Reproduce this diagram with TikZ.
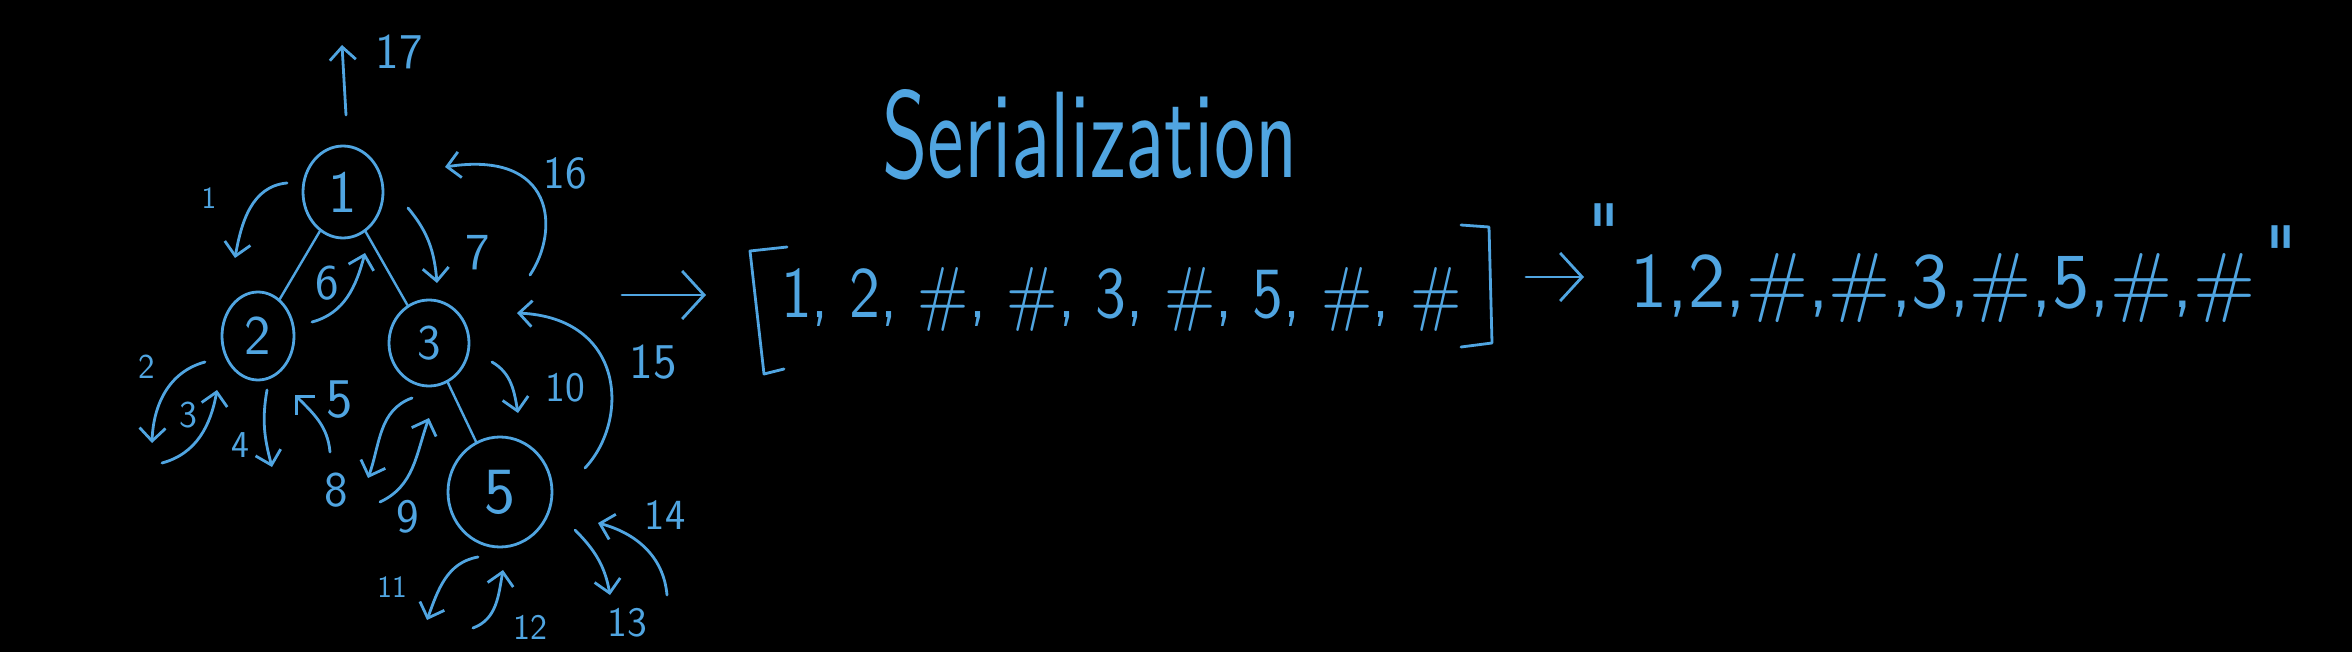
\documentclass[tikz,border=0pt]{standalone}
\usepackage{fontspec}
\usepackage{graphicx}
\usetikzlibrary{arrows.meta,shapes.geometric}
\definecolor{ink}{RGB}{80,165,225}
\begin{document}
\begin{tikzpicture}[x=1pt,y=1pt,
  inkline/.style={draw=ink, line width=2.8pt, line cap=round, line join=round},
  trav/.style={inkline, -{Straight Barb[length=13pt,width=26pt]}},
  bigarrow/.style={inkline, -{Straight Barb[length=22pt,width=48pt]}},
  treenode/.style={ellipse, draw=ink, line width=2.8pt, text=ink, inner sep=0pt, font=\sffamily\fontsize{#1}{#1}\selectfont},
  treenode/.default=58,
  treeedge/.style={draw=ink, line width=2.4pt, line cap=round},
  lbl/.style={text=ink, inner sep=0pt, font=\sffamily\fontsize{#1}{#1}\selectfont},
  lbl/.default=44,
  txt/.style={text=ink, inner sep=0pt, anchor=base west, font=\sffamily},
]
\fill[black] (0,0) rectangle (2352,-652);
\useasboundingbox (0,0) rectangle (2352,-652);

% tree nodes
\node[treenode=60, minimum width=80pt, minimum height=92pt] (n1) at (343,-192) {1};
\node[treenode=56, minimum width=72pt, minimum height=88pt] (n2) at (258,-336) {2};
\node[treenode=50, minimum width=80pt, minimum height=86pt] (n3) at (429,-343) {3};
\node[treenode=66, minimum width=104pt, minimum height=110pt] (n5) at (500,-492) {5};
\draw[treeedge] (n1) -- (n2);
\draw[treeedge] (n1) -- (n3);
\draw[treeedge] (n3) -- (n5);

% traversal arrow end points
\coordinate (s17) at (346,-115); \coordinate (e17) at (342,-45);
\coordinate (s1) at (287,-183);  \coordinate (e1) at (235,-258);
\coordinate (s2) at (205,-362);  \coordinate (e2) at (152,-443);
\coordinate (s3) at (162,-463);  \coordinate (e3) at (217,-390);
\coordinate (s4) at (267,-390);  \coordinate (e4) at (272,-467);
\coordinate (s5) at (330,-452);  \coordinate (e5) at (295,-395);
\coordinate (s6) at (312,-322);  \coordinate (e6) at (365,-253);
\coordinate (s7) at (408,-208);  \coordinate (e7) at (437,-283);
\coordinate (s8) at (412,-398);  \coordinate (e8) at (368,-478);
\coordinate (s9) at (380,-502);  \coordinate (e9) at (429,-418);
\coordinate (s10) at (492,-362); \coordinate (e10) at (518,-413);
\coordinate (s11) at (478,-557); \coordinate (e11) at (427,-620);
\coordinate (s12) at (473,-628); \coordinate (e12) at (503,-570);
\coordinate (s13) at (575,-530); \coordinate (e13) at (610,-595);
\coordinate (s14) at (667,-595); \coordinate (e14) at (598,-523);
\coordinate (s15) at (585,-468); \coordinate (e15) at (517,-313);
\coordinate (s16) at (530,-275); \coordinate (e16) at (445,-167);

\draw[trav] (s17) -- (e17);
\draw[trav] (s1) to[out=185,in=80] (e1);
\draw[trav] (s2) to[out=195,in=88] (e2);
\draw[trav] (s3) to[out=15,in=-100] (e3);
\draw[trav] (s4) to[out=-100,in=105] (e4);
\draw[trav] (s5) to[out=95,in=-45] (e5);
\draw[trav] (s6) to[out=15,in=-105] (e6);
\draw[trav] (s7) to[out=-50,in=95] (e7);
\draw[trav] (s8) to[out=200,in=70] (e8);
\draw[trav] (s9) to[out=25,in=-110] (e9);
\draw[trav] (s10) to[out=-30,in=100] (e10);
\draw[trav] (s11) to[out=190,in=70] (e11);
\draw[trav] (s12) to[out=20,in=-100] (e12);
\draw[trav] (s13) to[out=-45,in=100] (e13);
\draw[trav] (s14) to[out=95,in=-15] (e14);
\draw[trav] (s15) .. controls (630,-420) and (625,-318) .. (e15);
\draw[trav] (s16) .. controls (560,-230) and (555,-150) .. (e16);

% step labels
\node[lbl=50] (l17) at (399,-52) {17};
\node[lbl=31] (l1) at (209,-198) {1};
\node[lbl=35] (l2) at (147,-367) {2};
\node[lbl=38] (l3) at (188,-415) {3};
\node[lbl=38] (l4) at (240,-445) {4};
\node[lbl=56] (l5) at (340,-400) {5};
\node[lbl=50] (l6) at (327,-283) {6};
\node[lbl=52] (l7) at (478,-253) {7};
\node[lbl=50] (l8) at (336,-490) {8};
\node[lbl=48] (l9) at (408,-517) {9};
\node[lbl=42] (l10) at (565,-388) {10};
\node[lbl=31] (l11) at (392,-587) {11};
\node[lbl=36] (l12) at (530,-627) {12};
\node[lbl=42] (l13) at (627,-623) {13};
\node[lbl=43] (l14) at (665,-515) {14};
\node[lbl=50] (l15) at (653,-362) {15};
\node[lbl=46] (l16) at (565,-173) {16};

% title
\node[txt] (title) at (882,-178) {\resizebox{415pt}{88pt}{Serialization}};

% list
\coordinate (a1s) at (622,-295); \coordinate (a1e) at (706,-295);
\draw[bigarrow] (a1s) -- (a1e);
\draw[inkline] (787,-247) -- (750,-251) -- (764,-374) -- (784,-369);
\node[txt] (list) at (781,-317) {\resizebox{680pt}{50pt}{1, 2, \#, \#, 3, \#, 5, \#, \#}};
\draw[inkline] (1461,-225) -- (1489,-227) -- (1492,-343) -- (1461,-347);

% string
\coordinate (a2s) at (1526,-277); \coordinate (a2e) at (1584,-277);
\draw[bigarrow] (a2s) -- (a2e);
\node[lbl=80] (q1) at (1604,-232) {\textquotedbl};
\node[txt] (str) at (1630,-307) {\resizebox{625pt}{54pt}{1,2,\#,\#,3,\#,5,\#,\#}};
\node[lbl=80] (q2) at (2281,-254) {\textquotedbl};
\end{tikzpicture}
\end{document}
